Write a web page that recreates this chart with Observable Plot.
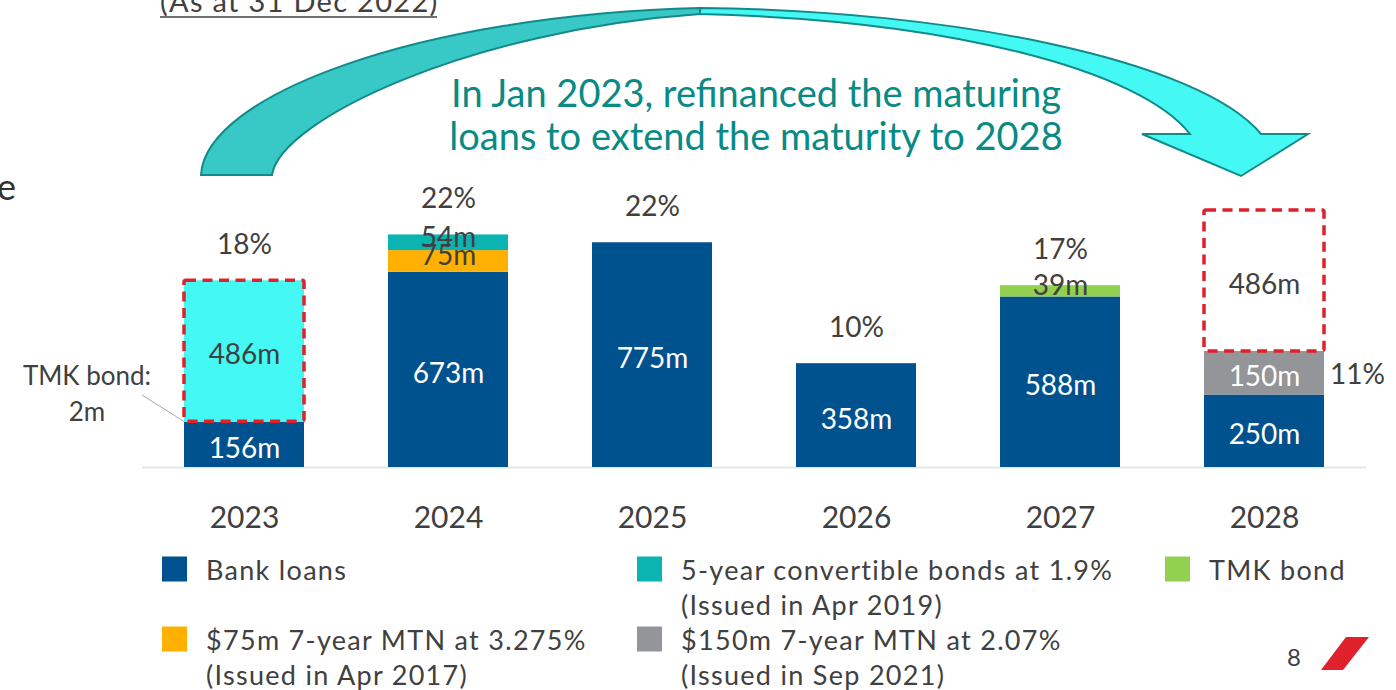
<!DOCTYPE html>
<html><head><meta charset="utf-8">
<script src="https://cdn.jsdelivr.net/npm/d3@7"></script>
<script src="https://cdn.jsdelivr.net/npm/@observablehq/plot@0.6"></script>
<style>
body{margin:0;background:#fff;}
#chart{position:relative;width:1396px;height:690px;overflow:hidden;font-family:Lato,sans-serif;}
</style></head><body><div id="chart"></div>
<script>
// ---- data ----
const years = ["2023","2024","2025","2026","2027","2028"];
const bankLoans     = [156, 673, 775, 358, 588, 250];
const tmkBond       = [2, 0, 0, 0, 39, 0];
const mtn75         = [0, 75, 0, 0, 0, 0];
const convBonds     = [0, 54, 0, 0, 0, 0];
const mtn150        = [0, 0, 0, 0, 0, 150];
const maturingLoans = [486, 0, 0, 0, 0, 0];
const extendedLoans = [0, 0, 0, 0, 0, 486];
const pctLabels = ["18%", "22%", "22%", "10%", "17%", "11%"];
const seriesNames = ["Bank loans", "TMK bond", "$75m 7-year MTN at 3.275%", "5-year convertible bonds at 1.9%",
  "$150m 7-year MTN at 2.07%", "Maturing loans", "Extended loans"];
const seriesColors = ["#00528F", "#92D050", "#FFB000", "#0BB3B1", "#939598", "#44F8F4", "#FFFFFF"];
const legendNames = ["Bank loans", "5-year convertible bonds at 1.9%", "TMK bond", "$75m 7-year MTN at 3.275%", "$150m 7-year MTN at 2.07%"];
const legendLines = [["Bank loans"], ["5-year convertible bonds at 1.9%", "(Issued in Apr 2019)"], ["TMK bond"],
  ["$75m 7-year MTN at 3.275%", "(Issued in Apr 2017)"], ["$150m 7-year MTN at 2.07%", "(Issued in Sep 2021)"]];
const noteLines = ["In Jan 2023, refinanced the maturing", "loans to extend the maturity to 2028"];
const subtitle = "(As at 31 Dec 2022)";

const seriesValues = [bankLoans, tmkBond, mtn75, convBonds, mtn150, maturingLoans, extendedLoans];
const rows = [];
years.forEach((yr, i) => seriesNames.forEach((s, k) => {
  if (seriesValues[k][i] > 0) rows.push({year: yr, series: s, value: seriesValues[k][i]});
}));
const boxes = [];
years.forEach((yr, i) => {
  const base = bankLoans[i] + tmkBond[i] + mtn75[i] + convBonds[i] + mtn150[i];
  const refi = maturingLoans[i] + extendedLoans[i];
  if (refi > 0) boxes.push({year: yr, y1: base, y2: base + refi});
});
const pctRows = years.map((yr, i) => ({
  year: yr, pct: pctLabels[i],
  total: seriesValues.reduce((a, s) => a + s[i], 0),
  mid: bankLoans[i] + mtn150[i] / 2
}));

const isWhite = d => d.series === "Bank loans" || d.series.startsWith("$150m");
const lab = d => d.value + "m";
const FONT = "Lato, sans-serif";
const DARK = "#404040";

const plot = Plot.plot({
  width: 1396, height: 690,
  marginLeft: 142, marginRight: 30, marginTop: 3, marginBottom: 223,
  x: {domain: years, paddingInner: 0.412, paddingOuter: 0.206, label: null},
  y: {domain: [0, 1600], axis: null},
  color: {domain: seriesNames, range: seriesColors},
  style: {fontFamily: FONT, overflow: "visible", background: "transparent"},
  marks: [
    Plot.ruleY([0], {stroke: "#E6E6E6", strokeWidth: 2}),
    Plot.barY(rows, Plot.stackY({x: "year", y: "value", fill: "series", order: seriesNames})),
    Plot.barY(boxes, {x: "year", y1: "y1", y2: "y2", fill: "none", stroke: "#E0202A", strokeWidth: 3.5, strokeDasharray: "10,6.5", rx: 2}),
    Plot.text(rows, Plot.stackY({x: "year", y: "value", order: seriesNames, z: "series",
      text: d => isWhite(d) ? lab(d) : null, fill: "white", fontSize: 28, dy: 4})),
    Plot.text(rows, Plot.stackY({x: "year", y: "value", order: seriesNames, z: "series",
      text: d => !isWhite(d) && d.value >= 100 ? lab(d) : null, fill: DARK, fontSize: 28, dy: 4})),
    Plot.text(rows, Plot.stackY({x: "year", y: "value", order: seriesNames, z: "series",
      text: d => !isWhite(d) && d.value >= 10 && d.value < 100 ? lab(d) : null, fill: DARK, fontSize: 28, dy: -5})),
    Plot.text(pctRows.slice(0, 5), {x: "year", y: "total", text: "pct", fill: DARK, fontSize: 28, dy: -36}),
    Plot.text(pctRows.slice(5), {x: "year", y: "mid", text: "pct", fill: DARK, fontSize: 28, dx: 93, dy: 2}),
    Plot.axisX({tickSize: 0, tickPadding: 39, fontSize: 30, fill: DARK, label: null})
  ]
});
document.getElementById("chart").appendChild(plot);

// ---- decorations ----
const svg = d3.select(plot);
const xs = plot.scale("x"), ys = plot.scale("y");
const deco = svg.append("g").attr("text-anchor", "start");

// curved arrow
deco.append("path")
  .attr("d", "M201,175 C205,95 420,15 700,8 L700,14 C470,30 280,120 272,175 Z")
  .attr("fill", "#38C8C6").attr("stroke", "#138A8A").attr("stroke-width", 2);
deco.append("path")
  .attr("d", "M700,8 C950,10 1200,60 1261,134 L1308,134 L1241,176 L1142,134 L1190,134 C1140,70 950,20 700,14 Z")
  .attr("fill", "#44F8F4").attr("stroke", "#138A8A").attr("stroke-width", 2).attr("stroke-linejoin", "miter");

// note text
noteLines.forEach((t, i) => {
  deco.append("text").attr("x", 756).attr("y", 92 + i * 43).attr("text-anchor", "middle")
    .attr("dominant-baseline", "central").attr("font-family", FONT).attr("font-size", 38)
    .attr("fill", "#088A85").text(t);
});

// subtitle (cut off at top)
deco.append("text").attr("x", 160).attr("y", 12).attr("text-anchor", "start").attr("font-family", FONT).attr("font-size", 29)
  .attr("letter-spacing", 1.3).attr("fill", DARK).text(subtitle);
deco.append("line").attr("x1", 160).attr("x2", 437).attr("y1", 17).attr("y2", 17).attr("stroke", DARK).attr("stroke-width", 1.5);

// cut-off left text
deco.append("text").attr("x", -3).attr("y", 200).attr("text-anchor", "start").attr("font-family", FONT).attr("font-size", 36)
  .attr("fill", "#333").text("e");

// TMK bond annotation
const tx = xs.apply("2023"), ty = ys.apply(bankLoans[0] + tmkBond[0] / 2);
deco.append("line").attr("x1", 142).attr("y1", 395).attr("x2", tx).attr("y2", ty).attr("stroke", "#A6A6A6").attr("stroke-width", 1);
[["TMK bond:", 375], [tmkBond[0] + "m", 411]].forEach(([t, y]) => {
  deco.append("text").attr("x", 87).attr("y", y).attr("text-anchor", "middle").attr("dominant-baseline", "central")
    .attr("font-family", FONT).attr("font-size", 26).attr("fill", DARK).text(t);
});

// legend
const colX = [162, 637, 1165];
const legendPos = [[0, 0], [1, 0], [2, 0], [0, 1], [1, 1]];
legendNames.forEach((name, i) => {
  const [c, r] = legendPos[i];
  const x = colX[c], y = 569 + r * 70;
  deco.append("rect").attr("x", x).attr("y", y - 12.5).attr("width", 25).attr("height", 25)
    .attr("fill", seriesColors[seriesNames.indexOf(name)]);
  legendLines[i].forEach((t, j) => {
    deco.append("text").attr("x", x + 44).attr("y", y + j * 35).attr("text-anchor", "start").attr("dominant-baseline", "central")
      .attr("font-family", FONT).attr("font-size", 27).attr("letter-spacing", 1.3).attr("fill", DARK).text(t);
  });
});

// page number and logo
deco.append("text").attr("x", 1294).attr("y", 656).attr("text-anchor", "middle").attr("dominant-baseline", "central")
  .attr("font-family", FONT).attr("font-size", 24).attr("fill", DARK).text("8");
deco.append("polygon").attr("points", "1321,670 1346,637 1369,637 1343,670").attr("fill", "#E0202A");
</script></body></html>
